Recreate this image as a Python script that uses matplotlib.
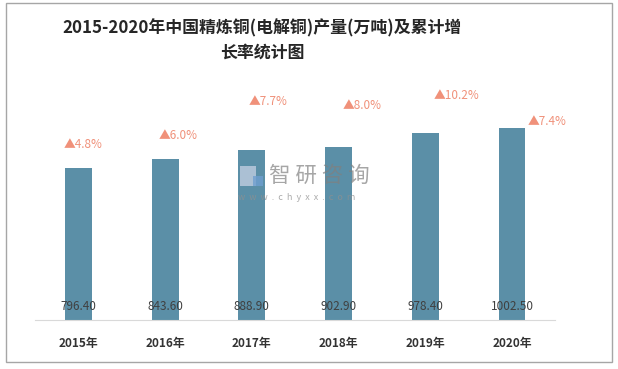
import matplotlib.pyplot as plt
from matplotlib.patches import Rectangle

plt.rcParams['font.family'] = ['Noto Sans CJK SC', 'DejaVu Sans']

years = ["2015年", "2016年", "2017年", "2018年", "2019年", "2020年"]
output = [796.40, 843.60, 888.90, 902.90, 978.40, 1002.50]
growth = ["4.8%", "6.0%", "7.7%", "8.0%", "10.2%", "7.4%"]
# where the growth labels sit (data units)
growth_x = [0.05, 1.15, 2.19, 3.27, 4.36, 5.40]
growth_y = [920, 963, 1145, 1120, 1172, 1040]

bar_color = "#5B8FA7"
label_color = "#F0917A"

fig = plt.figure(figsize=(6.18, 3.69), dpi=100)
ax = fig.add_axes([0.0566, 0.1328, 0.842, 0.650])

x = list(range(len(years)))
ax.bar(x, output, width=0.31, color=bar_color, zorder=2)
ax.set_xlim(-0.5, 5.5)
ax.set_ylim(0, 1254.6)

for i, v in enumerate(output):
    ax.text(i, 70, "%.2f" % v, ha="center", va="center", fontsize=8.5,
            color="#404040", zorder=3)
for i in x:
    ax.text(growth_x[i], growth_y[i], "▲" + growth[i], ha="center", va="center",
            fontsize=8.5, color=label_color)

ax.set_xticks(x)
ax.set_xticklabels(years, fontsize=8.5, fontweight="bold", color="#333333")
ax.tick_params(axis="x", length=0, pad=12)
ax.set_yticks([])
for s in ["top", "right", "left"]:
    ax.spines[s].set_visible(False)
ax.spines["bottom"].set_color("#D9D9D9")

fig.text(0.424, 0.890, "2015-2020年中国精炼铜(电解铜)产量(万吨)及累计增\n长率统计图",
         ha="center", va="center", fontsize=12.2, fontweight="bold",
         color="#262626", linespacing=1.45)

# watermark
fig.text(0.436, 0.523, "智 研 咨 询", fontsize=15.5, color="#808080", alpha=0.7,
         ha="left", va="center", zorder=10)
fig.text(0.385, 0.466, "w  w  w  .  c  h  y  x  x  .  c  o  m", fontsize=6.5,
         color="#909090", alpha=0.75, ha="left", va="center", zorder=10)
fig.patches.append(Rectangle((0.389, 0.495), 0.026, 0.056, transform=fig.transFigure,
                             facecolor="#C0CDE0", alpha=0.8, zorder=10))
fig.patches.append(Rectangle((0.410, 0.495), 0.016, 0.028, transform=fig.transFigure,
                             facecolor="#6F9FD0", alpha=0.8, zorder=10))

# outer frame
fig.patches.append(Rectangle((0.009, 0.019), 0.981, 0.973, transform=fig.transFigure,
                             fill=False, edgecolor="#A6A6A6", linewidth=1))

fig.savefig("out.png", dpi=100)
